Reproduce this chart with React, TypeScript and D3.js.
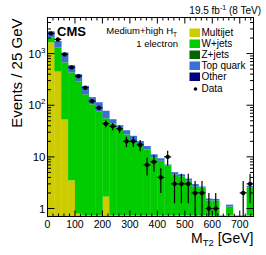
import * as d3 from "d3";

// bins of 25 GeV from 0 to 750
const binLow = d3.range(0, 750, 25);

// stacked backgrounds (events / bin)
const multijet = [1650, 450, 53, 3.5, 0.8, 0, 0, 0, 1.7, 0, 0, 0, 0, 0, 0, 0, 0, 0, 0, 0, 0, 0, 0, 0, 0, 0, 0, 0, 0, 0];
const wjets = [411, 869, 622, 428, 288, 162, 104, 76, 54, 44, 37, 27, 20, 16.6, 13.9, 9.7, 8.3, 6.8, 4.56, 4.2, 3.5, 2.67, 2.55, 1.43, 1.43, 0.5, 1.09, 0, 0, 2.55];
const zjets = [4, 8, 6, 4, 3, 1.6, 1, 0.8, 0.5, 0.4, 0.3, 0.2, 0.2, 0.1, 0.1, 0.1, 0.1, 0, 0, 0, 0, 0, 0, 0, 0, 0, 0, 0, 0, 0];
const topquark = [630, 430, 366, 158, 106, 72, 38, 37, 21.5, 9, 3.6, 5.5, 5.2, 3.5, 2.2, 1.4, 1.0, 0.3, 0.5, 0.4, 0.3, 0.3, 0.12, 0.13, 0.1, 0, 0.1, 0, 0, 0.2];
const other = [5, 4, 3, 2, 1, 0.8, 0.5, 0.4, 0.3, 0.2, 0.1, 0.1, 0.1, 0, 0, 0, 0, 0, 0, 0, 0, 0, 0, 0, 0, 0, 0, 0, 0, 0];
const dataCounts = [2460, 1880, 965, 540, 366, 218, 120, 89, 44, 39, 35, 20, 20, 17, 7, 8, 4, 10, 3, 3, 3, 2, 2, 1, 1, 0, 0, 0, 2, 3];

const legendLabels = ["Multijet", "W+jets", "Z+jets", "Top quark", "Other"];
const colors = ["#cccc00", "#00cc00", "#006600", "#3b6fd6", "#000080"];
const xTicks = [0, 100, 200, 300, 400, 500, 600, 700];
const yTicks = [1, 10, 100, 1000];

const W = 266;
const H = 255;
const left = 47.5;
const right = 253.5;
const top = 17.5;
const bottom = 216.5;
const font = "'Liberation Sans', Arial, Helvetica, sans-serif";

export default function App() {
  const x = d3.scaleLinear().domain([0, 750]).range([left, right]);
  const y = d3.scaleLog().domain([0.7, 5000]).range([bottom, top]);
  const yc = (v: number) => (v <= 0 ? bottom + 5 : y(v));

  const rows = binLow.map((b, i) => ({
    b,
    mj: multijet[i],
    wj: wjets[i],
    zj: zjets[i],
    tq: topquark[i],
    ot: other[i],
  }));
  const keys = ["mj", "wj", "zj", "tq", "ot"];
  const series = d3.stack<any>().keys(keys)(rows);

  const xMinor = d3.range(0, 751, 20).filter((v) => v % 100 !== 0);
  const yMinor: number[] = [];
  [1, 10, 100, 1000].forEach((d) => {
    for (let k = 2; k <= 9; k++) if (d * k < 5000) yMinor.push(d * k);
  });

  return (
    <svg
      width={W}
      height={H}
      style={{ position: "absolute", left: 0, top: 0, background: "#fff" }}
      fontFamily={font}
    >
      <defs>
        <clipPath id="plot">
          <rect x={left} y={top} width={right - left} height={bottom - top} />
        </clipPath>
      </defs>

      <g clipPath="url(#plot)">
        {series.map((s, si) =>
          s.map((d, i) => {
            if (d[1] - d[0] <= 0) return null;
            const y0 = yc(d[0]);
            const y1 = yc(d[1]);
            return (
              <rect
                key={`${si}-${i}`}
                x={x(binLow[i])}
                y={y1}
                width={x(binLow[i] + 25) - x(binLow[i]) + 0.3}
                height={Math.max(0, y0 - y1)}
                fill={colors[si]}
              />
            );
          })
        )}
        <line x1={left} x2={right} y1={bottom - 0.8} y2={bottom - 0.8} stroke={colors[0]} strokeWidth={1} />

        {dataCounts.map((n, i) => {
          if (n <= 0) return null;
          const cx = x(binLow[i] + 12.5);
          const e = Math.sqrt(n);
          return (
            <g key={`d${i}`} stroke="#000" strokeWidth={1.2}>
              <line x1={cx} x2={cx} y1={yc(n - e)} y2={yc(n + e)} />
              <line x1={x(binLow[i])} x2={x(binLow[i] + 25)} y1={y(n)} y2={y(n)} />
              <circle cx={cx} cy={y(n)} r={2.2} fill="#000" stroke="none" />
            </g>
          );
        })}
      </g>

      {/* ticks */}
      <g stroke="#000" strokeWidth={1}>
        {xTicks.map((t) => (
          <g key={`xt${t}`}>
            <line x1={x(t)} x2={x(t)} y1={bottom} y2={bottom - 6} />
            <line x1={x(t)} x2={x(t)} y1={top} y2={top + 6} />
          </g>
        ))}
        {xMinor.map((t) => (
          <g key={`xm${t}`}>
            <line x1={x(t)} x2={x(t)} y1={bottom} y2={bottom - 3} />
            <line x1={x(t)} x2={x(t)} y1={top} y2={top + 3} />
          </g>
        ))}
        {yTicks.map((t) => (
          <g key={`yt${t}`}>
            <line x1={left} x2={left + 7} y1={y(t)} y2={y(t)} />
            <line x1={right} x2={right - 7} y1={y(t)} y2={y(t)} />
          </g>
        ))}
        {yMinor.map((t) => (
          <g key={`ym${t}`}>
            <line x1={left} x2={left + 3.5} y1={y(t)} y2={y(t)} />
            <line x1={right} x2={right - 3.5} y1={y(t)} y2={y(t)} />
          </g>
        ))}
        <rect x={left} y={top} width={right - left} height={bottom - top} fill="none" />
      </g>

      {/* tick labels */}
      <g fontSize={10.5} fill="#000" textAnchor="middle">
        {xTicks.map((t) => (
          <text key={`xl${t}`} x={x(t)} y={228}>
            {t}
          </text>
        ))}
      </g>
      <g fontSize={11.5} fill="#000" textAnchor="end">
        <text x={45.5} y={y(1) + 4}>1</text>
        <text x={45.5} y={y(10) + 4}>10</text>
        <text x={45.5} y={y(100) + 4}>
          10<tspan fontSize={8} dy={-5}>2</tspan>
        </text>
        <text x={45.5} y={y(1000) + 4}>
          10<tspan fontSize={8} dy={-5}>3</tspan>
        </text>
      </g>

      {/* axis titles */}
      <text
        transform={`translate(22,${top + 1}) rotate(-90)`}
        textAnchor="end"
        fontSize={15}
        fill="#000"
      >
        Events / 25 GeV
      </text>
      <text x={right} y={243} textAnchor="end" fontSize={14} fill="#000">
        M<tspan fontSize={9.5} dy={3}>T2</tspan>
        <tspan dy={-3}> [GeV]</tspan>
      </text>

      {/* header texts */}
      <text x={261} y={14} textAnchor="end" fontSize={10} fill="#000">
        19.5 fb<tspan fontSize={7} dy={-4}>-1</tspan>
        <tspan dy={4}> (8 TeV)</tspan>
      </text>
      <text x={57} y={36} fontSize={13} fontWeight="bold" fill="#000">
        CMS
      </text>
      <text x={177} y={34} textAnchor="end" fontSize={9.5} fill="#000">
        Medium+high H<tspan fontSize={6.5} dy={2.5}>T</tspan>
      </text>
      <text x={178} y={47} textAnchor="end" fontSize={9.5} fill="#000">
        1 electron
      </text>

      {/* legend */}
      <g fontSize={10} fill="#000">
        {legendLabels.map((l, i) => (
          <g key={l}>
            <rect x={189.5} y={28.5 + i * 11} width={10.5} height={8.5} fill={colors[i]} />
            <text x={201.5} y={36 + i * 11}>
              {l}
            </text>
          </g>
        ))}
        <circle cx={195.5} cy={89} r={1.8} fill="#000" />
        <text x={201.5} y={92}>
          Data
        </text>
      </g>
    </svg>
  );
}
